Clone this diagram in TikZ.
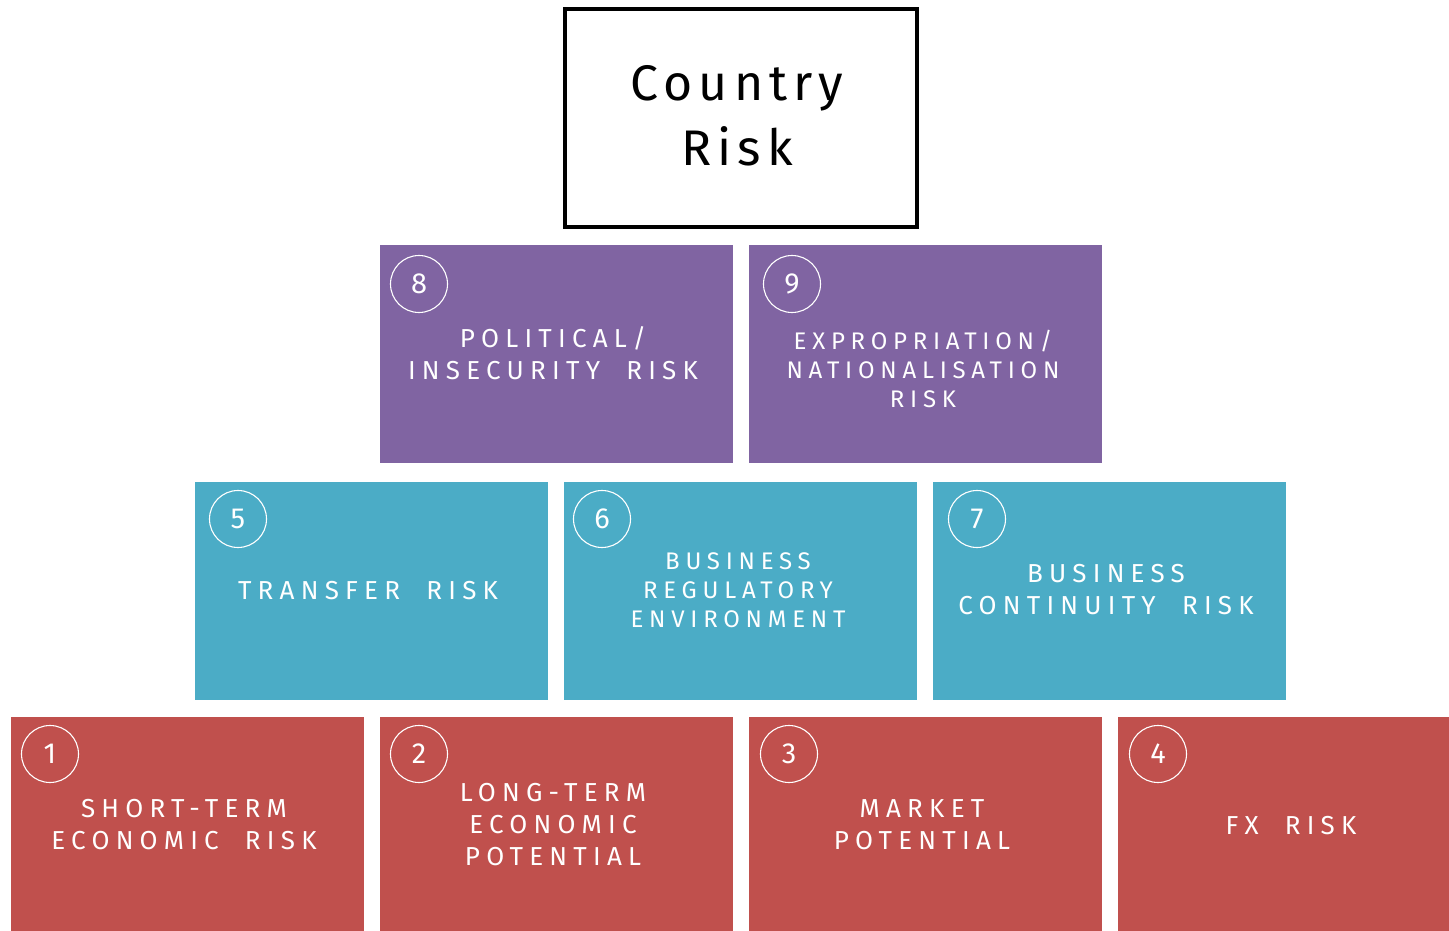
\documentclass[tikz,border=0pt]{standalone}
\usepackage{fontspec}
\setmainfont{Fira Sans}
\newfontfamily\labelfont[LetterSpace=24, WordSpace=2]{Fira Sans}
\newfontfamily\titlefont[LetterSpace=12]{Fira Sans}
\definecolor{riskpurple}{HTML}{8064A2}
\definecolor{riskteal}{HTML}{4BACC6}
\definecolor{riskred}{HTML}{C0504D}
\begin{document}
\begin{tikzpicture}[x=1pt,y=-1pt,
  riskbox/.style={draw=none, minimum width=353pt, minimum height=218pt,
    inner sep=0pt, anchor=north west},
  numcirc/.style={circle, draw=white, line width=1.1pt, minimum size=57pt,
    inner sep=0pt, text=white, font=\fontsize{29}{32}\selectfont},
  risktext/.style={text=white, align=center, inner sep=0pt,
    font=\labelfont\fontsize{26}{32}\selectfont},
  risktextsmall/.style={risktext, font=\labelfont\fontsize{24}{29}\selectfont}
]
\useasboundingbox (0,0) rectangle (1449,931);
\fill[white] (0,0) rectangle (1449,931);

% title box
\node[draw=black, line width=4pt, minimum width=352pt, minimum height=218pt,
  inner sep=0pt] (title) at (741,118) {};
\node[align=center, inner sep=0pt, font=\titlefont\fontsize{50}{65}\selectfont]
  (titletext) at (737,116) {Country\\Risk};

% top tier
\node[riskbox, fill=riskpurple] (b8) at (380,245) {};
\node[riskbox, fill=riskpurple] (b9) at (749,245) {};
\node[numcirc] (n8) at (419,284) {8};
\node[numcirc] (n9) at (792,284) {9};
\node[risktext] (t8) at (553,353) {POLITICAL/\\INSECURITY RISK};
\node[risktextsmall] (t9) at (923,369) {EXPROPRIATION/\\NATIONALISATION\\RISK};

% middle tier
\node[riskbox, fill=riskteal] (b5) at (195,482) {};
\node[riskbox, fill=riskteal] (b6) at (564,482) {};
\node[riskbox, fill=riskteal] (b7) at (933,482) {};
\node[numcirc] (n5) at (238,519) {5};
\node[numcirc] (n6) at (602,519) {6};
\node[numcirc] (n7) at (977,519) {7};
\node[risktext] (t5) at (368,591) {TRANSFER RISK};
\node[risktextsmall] (t6) at (738,590) {BUSINESS\\REGULATORY\\ENVIRONMENT};
\node[risktext] (t7) at (1106,590) {BUSINESS\\CONTINUITY RISK};

% bottom tier
\node[riskbox, fill=riskred] (b1) at (11,717) {};
\node[riskbox, fill=riskred] (b2) at (380,717) {};
\node[riskbox, fill=riskred] (b3) at (749,717) {};
\node[riskbox, fill=riskred] (b4) at (1118,717) {};
\node[numcirc] (n1) at (50,754) {1};
\node[numcirc] (n2) at (419,754) {2};
\node[numcirc] (n3) at (789,754) {3};
\node[numcirc] (n4) at (1158,754) {4};
\node[risktext] (t1) at (184,825) {SHORT-TERM\\ECONOMIC RISK};
\node[risktext] (t2) at (553,825) {LONG-TERM\\ECONOMIC\\POTENTIAL};
\node[risktext] (t3) at (922,825) {MARKET\\POTENTIAL};
\node[risktext] (t4) at (1291,826) {FX RISK};
\end{tikzpicture}
\end{document}
